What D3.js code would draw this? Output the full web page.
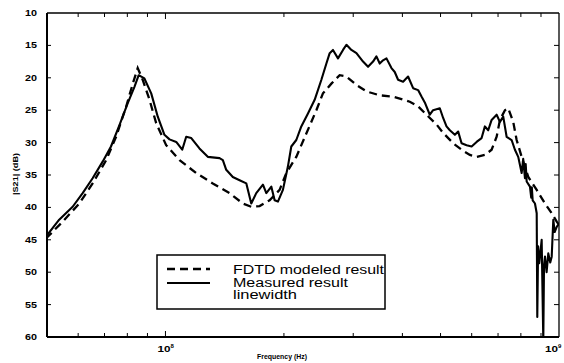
<!DOCTYPE html>
<html>
<head>
<meta charset="utf-8">
<script src="https://cdn.jsdelivr.net/npm/d3@7"></script>
<style>
  body { margin: 0; background: #fff; }
  svg { display: block; font-family: "Liberation Sans", Arial, sans-serif; }
</style>
</head>
<body>
<svg id="chart" width="564" height="363"></svg>
<script>
// measured |S21| (MHz, dB)
var measured = [
  [49.7,44.5],[53.7,41.9],[58.1,39.9],[61.6,37.8],[65.3,35.5],[69.3,32.9],[72.7,30.6],
  [76.4,27.3],[80.2,23.9],[83.4,21.4],[85.5,19.6],[88.4,20.1],[92.0,22.4],[95.6,26.0],
  [99.4,28.8],[102.4,29.5],[106.5,29.9],[110.3,31.1],[112.9,29.1],[116.3,29.3],[122.0,30.9],
  [128.1,32.2],[137.2,32.4],[139.9,32.7],[142.7,34.2],[148.3,35.3],[154.3,35.8],[160.5,36.3],
  [165.2,39.4],[170.1,37.8],[176.9,36.5],[180.4,37.8],[185.8,36.8],[189.4,38.9],[193.1,39.1],
  [198.8,37.3],[204.7,33.7],[208.8,30.6],[215.0,29.6],[221.4,27.5],[230.2,25.5],[239.4,23.4],
  [249.0,20.3],[256.4,17.8],[261.4,16.2],[266.5,15.7],[274.4,17.0],[282.6,15.7],[288.3,14.9],
  [296.8,15.7],[305.7,16.2],[317.7,17.5],[327.2,18.3],[336.9,17.5],[343.6,16.7],[350.3,17.8],
  [357.2,17.3],[364.4,17.0],[375.2,18.5],[382.5,19.1],[390.0,20.3],[401.6,20.6],[413.5,19.8],
  [425.9,21.6],[438.5,21.9],[447.3,22.9],[456.0,23.8],[469.6,25.7],[478.7,25.0],[497.9,24.7],
  [507.7,26.2],[517.8,27.5],[528.0,28.1],[543.8,28.8],[554.4,28.3],[565.5,30.1],[582.3,30.4],
  [599.7,30.6],[617.5,29.9],[635.8,29.3],[648.2,27.5],[660.9,28.1],[674.2,26.5],[694.3,25.7],
  [707.8,26.8],[721.6,26.0],[736.1,29.1],[757.9,29.6],[772.7,31.1],[787.8,32.2],[803.7,34.7],
  [811.0,32.5],[819.4,35.5],[823.0,33.3],[827.6,36.0],[843.7,36.8],[850.0,38.5],[853.0,36.9],
  [857.2,38.9],[868.8,39.4],[877.7,40.9],[880.7,56.9],[885.0,46.0],[891.1,48.6],[903.6,45.0],
  [912.2,60.5],[916.0,49.0],[921.3,47.6],[930.0,50.0],[939.3,47.1],[950.0,48.5],[958.2,47.6],
  [967.2,41.9],[975.0,43.8],[986.7,43.0],[1000,42.5]
];

// FDTD modeled |S21| (MHz, dB)
var modeled = [
  [49.7,44.8],[54.8,42.2],[60.4,39.4],[65.3,36.3],[70.7,32.7],[74.9,29.1],[79.4,24.5],
  [82.6,20.9],[85.0,18.5],[87.5,20.3],[91.1,23.4],[94.7,27.0],[100.4,30.4],[108.6,32.7],
  [119.7,34.7],[131.9,36.3],[145.5,37.8],[157.3,39.4],[165.2,39.9],[173.5,39.8],[183.9,38.9],
  [195.0,37.3],[202.8,34.7],[215.0,32.2],[228.0,28.6],[241.8,25.0],[251.3,22.4],[264.0,20.9],
  [277.1,19.6],[288.3,19.8],[305.7,21.1],[324.1,22.1],[350.3,22.7],[378.7,22.9],[393.9,23.2],
  [417.7,23.7],[438.5,24.4],[460.6,25.7],[488.4,27.2],[507.7,28.5],[538.3,30.1],[565.5,31.1],
  [593.7,31.9],[617.5,32.2],[648.2,31.9],[674.2,31.1],[694.3,29.1],[707.8,26.5],[728.8,25.0],
  [743.0,24.7],[765.1,26.8],[780.5,29.6],[803.7,32.2],[835.4,35.3],[877.7,37.3],[921.3,39.4],
  [958.2,40.9],[986.7,42.2],[1000,42.7]
];

var yTicks = [10, 15, 20, 25, 30, 35, 40, 45, 50, 55, 60];
var xMajor = [[1e8, "8"], [1e9, "9"]];
var xMinor = [6e7, 7e7, 8e7, 9e7, 2e8, 3e8, 4e8, 5e8, 6e8, 7e8, 8e8, 9e8];
var legendLabels = ["FDTD modeled result", "Measured result", "linewidth"];

var svg = d3.select("#chart");
var plotL = 47, plotR = 559, plotT = 13, plotB = 337;

var x = d3.scaleLog().domain([5e7, 1e9]).range([plotL, plotR]);
var y = d3.scaleLinear().domain([10, 60]).range([plotT, plotB]);

svg.append("clipPath").attr("id", "plotclip")
  .append("rect").attr("x", plotL).attr("y", plotT)
  .attr("width", plotR - plotL).attr("height", plotB - plotT);

var line = d3.line()
  .x(d => x(d[0] * 1e6))
  .y(d => y(d[1]));

var curves = svg.append("g").attr("clip-path", "url(#plotclip)");

curves.append("path")
  .datum(modeled)
  .attr("d", line)
  .attr("fill", "none")
  .attr("stroke", "#000")
  .attr("stroke-width", 2.3)
  .attr("stroke-dasharray", "8,5");

curves.append("path")
  .datum(measured)
  .attr("d", line)
  .attr("fill", "none")
  .attr("stroke", "#000")
  .attr("stroke-width", 2.1)
  .attr("stroke-linejoin", "round");

// frame
svg.append("line").attr("x1", plotL).attr("x2", plotR).attr("y1", plotT).attr("y2", plotT)
  .attr("stroke", "#000").attr("stroke-width", 1.5);
svg.append("line").attr("x1", plotR).attr("x2", plotR).attr("y1", plotT).attr("y2", plotB)
  .attr("stroke", "#000").attr("stroke-width", 1.3);
svg.append("line").attr("x1", plotL).attr("x2", plotL).attr("y1", plotT).attr("y2", plotB)
  .attr("stroke", "#000").attr("stroke-width", 2);
svg.append("line").attr("x1", plotL).attr("x2", plotR).attr("y1", plotB).attr("y2", plotB)
  .attr("stroke", "#000").attr("stroke-width", 2);

// y ticks, both sides pointing in
var inner = yTicks.slice(1, -1);
svg.selectAll(".ytl").data(inner).enter().append("line")
  .attr("x1", plotL).attr("x2", plotL + 4)
  .attr("y1", d => y(d)).attr("y2", d => y(d))
  .attr("stroke", "#000").attr("stroke-width", 1);
svg.selectAll(".ytr").data(inner).enter().append("line")
  .attr("x1", plotR - 5).attr("x2", plotR)
  .attr("y1", d => y(d)).attr("y2", d => y(d))
  .attr("stroke", "#000").attr("stroke-width", 1);

// x ticks, top and bottom
var allX = xMinor.concat([1e8]);
svg.selectAll(".xtb").data(allX).enter().append("line")
  .attr("x1", d => x(d)).attr("x2", d => x(d))
  .attr("y1", plotB).attr("y2", d => d == 1e8 ? plotB - 6 : plotB - 4)
  .attr("stroke", "#000").attr("stroke-width", 1);
svg.selectAll(".xtt").data(allX).enter().append("line")
  .attr("x1", d => x(d)).attr("x2", d => x(d))
  .attr("y1", plotT).attr("y2", d => d == 1e8 ? plotT + 6 : plotT + 4)
  .attr("stroke", "#000").attr("stroke-width", 1);

// y tick labels
svg.selectAll(".ylab").data(yTicks).enter().append("text")
  .attr("x", 37).attr("y", d => y(d) + 3)
  .attr("text-anchor", "end")
  .attr("textLength", 12).attr("lengthAdjust", "spacingAndGlyphs")
  .style("font-size", "8.5px").style("font-weight", "bold")
  .text(d => d);

// x tick labels 10^n (the last one kept inside the page edge)
xMajor.forEach(function(m) {
  var px = Math.min(x(m[0]) - 8, 545);
  var t = svg.append("text")
    .attr("x", px).attr("y", 352)
    .style("font-size", "8.5px").style("font-weight", "bold");
  t.append("tspan").text("10")
    .attr("textLength", 13).attr("lengthAdjust", "spacingAndGlyphs");
  t.append("tspan").text(m[1]).attr("dy", -4).style("font-size", "6px");
});

// axis titles
svg.append("text")
  .attr("x", 282).attr("y", 359)
  .attr("text-anchor", "middle")
  .attr("textLength", 50).attr("lengthAdjust", "spacingAndGlyphs")
  .style("font-size", "7.5px").style("font-weight", "bold")
  .text("Frequency (Hz)");

svg.append("text")
  .attr("transform", "translate(18,174) rotate(-90)")
  .attr("text-anchor", "middle")
  .attr("textLength", 42).attr("lengthAdjust", "spacingAndGlyphs")
  .style("font-size", "8px").style("font-weight", "bold")
  .text("|S21| (dB)");

// legend
var lg = svg.append("g");
lg.append("rect")
  .attr("x", 157).attr("y", 255).attr("width", 228).attr("height", 54)
  .attr("fill", "#fff").attr("stroke", "#000").attr("stroke-width", 1.5);
lg.append("line")
  .attr("x1", 167).attr("x2", 210).attr("y1", 269).attr("y2", 269)
  .attr("stroke", "#000").attr("stroke-width", 2.3).attr("stroke-dasharray", "8,5");
lg.append("line")
  .attr("x1", 167).attr("x2", 210).attr("y1", 283).attr("y2", 283)
  .attr("stroke", "#000").attr("stroke-width", 2.1);
var legendW = [151, 115, 64];
legendLabels.forEach(function(s, i) {
  lg.append("text")
    .attr("x", 233).attr("y", 274 + i * 12.5)
    .attr("textLength", legendW[i]).attr("lengthAdjust", "spacingAndGlyphs")
    .style("font-size", "12.5px")
    .text(s);
});
</script>
</body>
</html>
